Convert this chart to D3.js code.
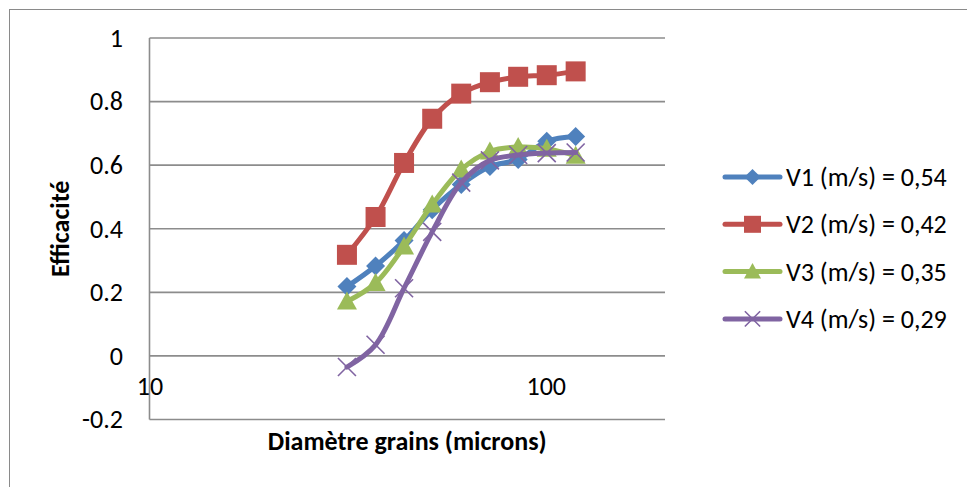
<!DOCTYPE html>
<html>
<head>
<meta charset="utf-8">
<script src="https://cdn.jsdelivr.net/npm/d3@7"></script>
<style>
  html, body { margin: 0; padding: 0; background: #fff; }
  svg { display: block; font-family: Carlito, Calibri, Lato, "Open Sans", sans-serif; }
</style>
</head>
<body>
<svg id="chart" width="967" height="487"></svg>
<script>
// ---- data ----
const diameters = [31.5, 37.2, 43.9, 51.7, 61.2, 72.3, 85.2, 100.6, 119];
const seriesNames = ["V1 (m/s) = 0,54", "V2 (m/s) = 0,42", "V3 (m/s) = 0,35", "V4 (m/s) = 0,29"];
const v1 = [0.218, 0.283, 0.363, 0.460, 0.539, 0.596, 0.618, 0.675, 0.690];
const v2 = [0.318, 0.437, 0.607, 0.746, 0.825, 0.861, 0.878, 0.883, 0.895];
const v3 = [0.171, 0.229, 0.344, 0.476, 0.586, 0.643, 0.657, 0.652, 0.630];
const v4 = [-0.035, 0.035, 0.213, 0.390, 0.545, 0.615, 0.632, 0.638, 0.640];
const yTicks = [-0.2, 0, 0.2, 0.4, 0.6, 0.8, 1];
const yTickLabels = ["-0.2", "0", "0.2", "0.4", "0.6", "0.8", "1"];
const xTicks = [10, 100];
const xTickLabels = ["10", "100"];
const colors = ["#4F81BD", "#C0504D", "#9BBB59", "#8064A2"];
const markers = ["diamond", "square", "triangle", "cross"];

const seriesVals = [v1, v2, v3, v4];
const series = seriesNames.map((name, i) => ({
  name, color: colors[i], marker: markers[i],
  points: diameters.map((d, j) => ({x: d, y: seriesVals[i][j]}))
}));

const svg = d3.select("#chart");
const pL = 149.5, pR = 665, pT = 38, pB = 419.5;
const FS = 26;

const x = d3.scaleLog().domain([10, 200]).range([pL, pR]);
const y = d3.scaleLinear().domain([-0.2, 1]).range([pB, pT]);

// outer chart frame
svg.append("rect").attr("x", 9.5).attr("y", 9.5).attr("width", 1000).attr("height", 1000)
  .attr("fill", "none").attr("stroke", "#8a8a8a").attr("stroke-width", 1);

// gridlines
svg.append("g").selectAll("line").data(yTicks).join("line")
  .attr("x1", pL).attr("x2", pR)
  .attr("y1", d => y(d)).attr("y2", d => y(d))
  .attr("stroke", "#8c8c8c").attr("stroke-width", 1.6);

// vertical axis line
svg.append("line").attr("x1", pL).attr("x2", pL).attr("y1", pT).attr("y2", pB)
  .attr("stroke", "#8c8c8c").attr("stroke-width", 1.6);

// y tick labels
const yAxis = d3.axisLeft(y).tickValues(yTicks).tickSize(0).tickPadding(0)
  .tickFormat((d, i) => yTickLabels[i]);
const gy = svg.append("g").attr("transform", `translate(${123},0)`).call(yAxis);
gy.select(".domain").remove();
gy.selectAll("text").attr("font-size", FS).attr("fill", "#000")
  .attr("font-family", "Carlito, Calibri, Lato, sans-serif");

// x tick labels
const xAxis = d3.axisBottom(x).tickValues(xTicks).tickSize(0).tickPadding(0)
  .tickFormat((d, i) => xTickLabels[i]);
const gx = svg.append("g").attr("transform", `translate(0,${377})`).call(xAxis);
gx.select(".domain").remove();
gx.selectAll("text").attr("font-size", FS).attr("fill", "#000")
  .attr("font-family", "Carlito, Calibri, Lato, sans-serif");

// axis titles
svg.append("text").attr("x", (pL + pR) / 2).attr("y", 450)
  .attr("text-anchor", "middle").attr("font-weight", "bold").attr("font-size", FS)
  .text("Diamètre grains (microns)");
svg.append("text").attr("transform", `translate(69,${(pT + pB) / 2}) rotate(-90)`)
  .attr("text-anchor", "middle").attr("font-weight", "bold").attr("font-size", FS)
  .text("Efficacité");

// marker helper
function drawMarker(g, type, color, cx, cy, scale) {
  const s = scale || 1;
  if (type === "diamond") {
    const r = 9.5 * s;
    g.append("path").attr("d", `M${cx},${cy - r}L${cx + r},${cy}L${cx},${cy + r}L${cx - r},${cy}Z`)
      .attr("fill", color);
  } else if (type === "square") {
    const r = 10 * s;
    g.append("rect").attr("x", cx - r).attr("y", cy - r).attr("width", 2 * r).attr("height", 2 * r)
      .attr("fill", color);
  } else if (type === "triangle") {
    const r = 10 * s;
    g.append("path").attr("d", `M${cx},${cy - r}L${cx + r},${cy + r * 0.8}L${cx - r},${cy + r * 0.8}Z`)
      .attr("fill", color);
  } else if (type === "cross") {
    const r = 9 * s;
    g.append("path").attr("d", `M${cx - r},${cy - r}L${cx + r},${cy + r}M${cx - r},${cy + r}L${cx + r},${cy - r}`)
      .attr("stroke", color).attr("stroke-width", 1.6).attr("fill", "none");
  }
}

// lines + markers
const line = d3.line().x(d => x(d.x)).y(d => y(d.y)).curve(d3.curveCatmullRom.alpha(0.5));
series.forEach(s => {
  const g = svg.append("g");
  g.append("path").datum(s.points).attr("d", line)
    .attr("fill", "none").attr("stroke", s.color).attr("stroke-width", 5)
    .attr("stroke-linejoin", "round").attr("stroke-linecap", "round");
  s.points.forEach(p => drawMarker(g, s.marker, s.color, x(p.x), y(p.y), 1));
});

// legend
const legY0 = 177, legStep = 47.3;
series.forEach((s, i) => {
  const g = svg.append("g");
  const ly = legY0 + i * legStep;
  g.append("line").attr("x1", 725).attr("x2", 780).attr("y1", ly).attr("y2", ly)
    .attr("stroke", s.color).attr("stroke-width", 5).attr("stroke-linecap", "round");
  drawMarker(g, s.marker, s.color, 752.5, ly, 0.85);
  g.append("text").attr("x", 786).attr("y", ly).attr("dy", "0.35em")
    .attr("font-size", FS).attr("fill", "#000").text(s.name);
});
</script>
</body>
</html>
